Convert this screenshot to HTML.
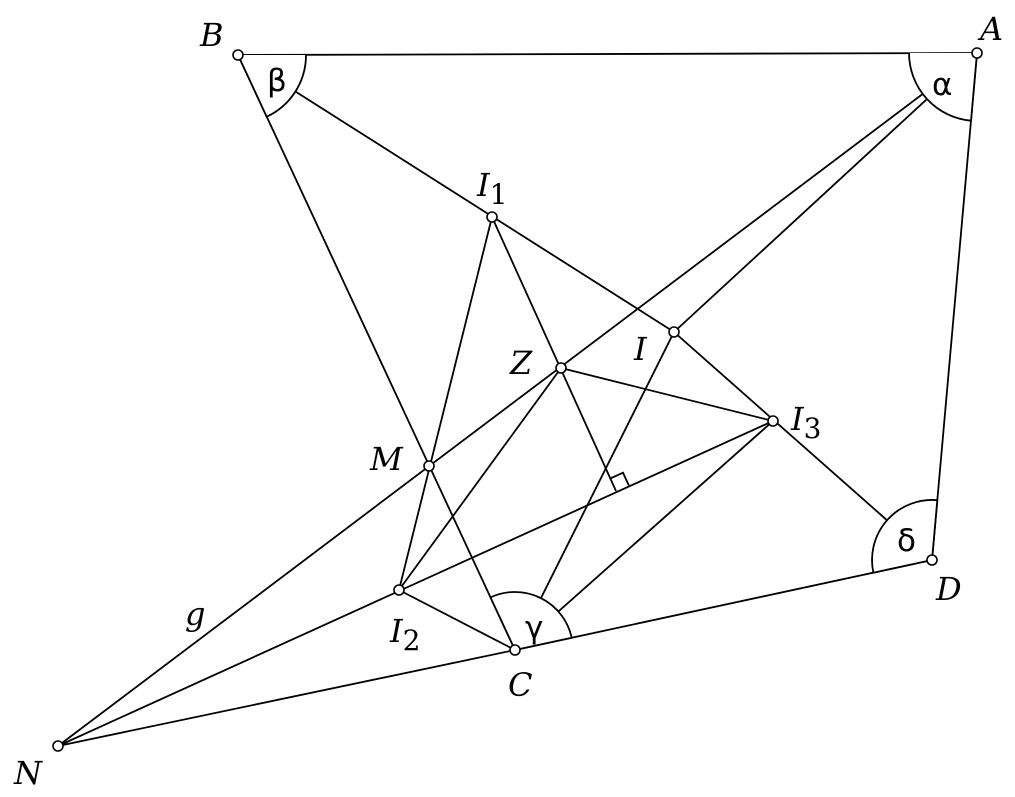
<!DOCTYPE html>
<html><head><meta charset="utf-8"><style>
html,body{margin:0;padding:0;background:#fff;}
svg{display:block;}
.l{font-family:"DejaVu Serif","Liberation Serif",serif;font-style:italic;font-size:32px;fill:#000;}
.s{font-family:"DejaVu Sans","Liberation Sans",sans-serif;font-size:31px;fill:#000;}
</style></head><body>
<svg width="1015" height="797" viewBox="0 0 1015 797" xmlns="http://www.w3.org/2000/svg">
<g stroke="#000" stroke-width="1.8" fill="none">
<line x1="238" y1="55" x2="977" y2="53"/>
<line x1="977" y1="53" x2="932" y2="560"/>
<line x1="932" y1="560" x2="515" y2="650"/>
<line x1="515" y1="650" x2="58" y2="746"/>
<line x1="238" y1="55" x2="515" y2="650"/>
<line x1="238" y1="55" x2="674" y2="332"/>
<line x1="674" y1="332" x2="932" y2="560"/>
<line x1="977" y1="53" x2="58" y2="746"/>
<line x1="977" y1="53" x2="674" y2="332"/>
<line x1="674" y1="332" x2="515" y2="650"/>
<line x1="492" y1="217" x2="399" y2="590"/>
<line x1="492" y1="217" x2="616" y2="491"/>
<line x1="561" y1="368" x2="773" y2="421"/>
<line x1="561" y1="368" x2="399" y2="590"/>
<line x1="58" y1="746" x2="773" y2="421"/>
<line x1="399" y1="590" x2="515" y2="650"/>
<line x1="773" y1="421" x2="515" y2="650"/>
<polyline points="628.8,485.4 623,472.7 610.3,478.5"/>
</g>
<g stroke="#000" stroke-width="1.8" fill="#fff">
<path d="M238,55 L306,55 A68,68 0 0 1 266.7,116.7 Z" stroke="none"/>
<path d="M306,55 A68,68 0 0 1 266.7,116.7"/>
<path d="M977,53 L909,53 A68,68 0 0 0 971,120.7 Z" stroke="none"/>
<path d="M909,53 A68,68 0 0 0 971,120.7"/>
<path d="M515,650 L490.5,597.4 A58,58 0 0 1 571.7,637.8 Z" stroke="none"/>
<path d="M490.5,597.4 A58,58 0 0 1 571.7,637.8"/>
<path d="M932,560 L937.3,500.2 A60,60 0 0 0 873.4,572.7 Z" stroke="none"/>
<path d="M937.3,500.2 A60,60 0 0 0 873.4,572.7"/>
</g>
<g stroke="#000" stroke-width="1.8" fill="none">
<line x1="238" y1="55" x2="266.7" y2="116.7"/>
<line x1="977" y1="53" x2="971" y2="120.7"/>
<line x1="515" y1="650" x2="490.5" y2="597.4"/>
<line x1="515" y1="650" x2="571.7" y2="637.8"/>
<line x1="932" y1="560" x2="937.3" y2="500.2"/>
<line x1="932" y1="560" x2="873.4" y2="572.7"/>
</g>
<g stroke="#000" stroke-width="1.6" fill="#fff">
<circle cx="238" cy="55" r="5"/><circle cx="977" cy="53" r="5"/>
<circle cx="932" cy="560" r="5"/><circle cx="515" cy="650" r="5"/>
<circle cx="58" cy="746" r="5"/><circle cx="492" cy="217" r="5"/>
<circle cx="674" cy="332" r="5"/><circle cx="561" cy="368" r="5"/>
<circle cx="773" cy="421" r="5"/><circle cx="429" cy="466" r="5"/>
<circle cx="399" cy="590" r="5"/>
</g>
<text class="l" x="200" y="46">B</text>
<text class="l" x="980" y="40">A</text>
<text class="l" x="936" y="600">D</text>
<text class="l" x="508" y="696">C</text>
<text class="l" x="14" y="784">N</text>
<text class="l" x="185" y="625">g</text>
<text class="l" x="477" y="196">I<tspan font-style="normal" font-size="28" dy="8">1</tspan></text>
<text class="l" x="634" y="360">I</text>
<text class="l" x="510" y="374">Z</text>
<text class="l" x="791" y="430">I<tspan font-style="normal" font-size="28" dy="8">3</tspan></text>
<text class="l" x="370" y="470">M</text>
<text class="l" x="390" y="642">I<tspan font-style="normal" font-size="28" dy="8">2</tspan></text>
<text class="s" x="267" y="91">β</text>
<text class="s" x="932" y="95">α</text>
<text class="s" x="525" y="638">γ</text>
<text class="s" x="897" y="551">δ</text>
</svg>
</body></html>
